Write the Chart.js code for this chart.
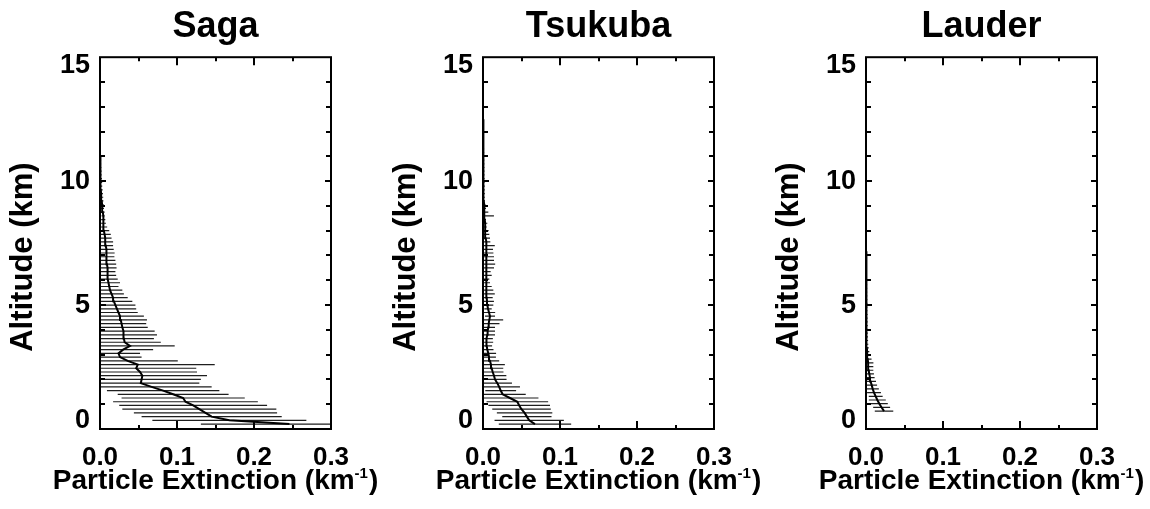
<!DOCTYPE html>
<html>
<head>
<meta charset="utf-8">
<script src="https://cdn.jsdelivr.net/npm/chart.js@4.4.0/dist/chart.umd.min.js"></script>
<style>
  html, body { margin: 0; padding: 0; background: #fff; overflow: hidden; width: 1150px; height: 509px; }
  .panel { position: absolute; top: 0; width: 431px; height: 509px; }
</style>
</head>
<body>
<div class="panel" style="left:0px"><canvas id="c0" width="431" height="509"></canvas></div>
<div class="panel" style="left:383px"><canvas id="c1" width="431" height="509"></canvas></div>
<div class="panel" style="left:766px"><canvas id="c2" width="431" height="509"></canvas></div>
<script>
// altitude levels (km), Saga and Tsukuba share them
var altitude = [
  0.2,0.35,0.5,0.65,0.8,0.95,1.1,1.25,1.4,1.55,
  1.7,1.85,2.0,2.15,2.3,2.45,2.6,2.75,2.9,3.05,
  3.2,3.35,3.5,3.65,3.8,3.95,4.1,4.25,4.4,4.55,
  4.7,4.85,5.0,5.15,5.3,5.45,5.6,5.75,5.9,6.05,
  6.2,6.35,6.5,6.65,6.8,6.95,7.1,7.25,7.4,7.55,
  7.7,7.85,8.0,8.15,8.3,8.45,8.6,8.75,8.9,9.05,
  9.2,9.35,9.5,9.65,9.8,9.95,10.1,10.25,10.4,10.55,
  10.7,10.85,11.0,11.15,11.3,11.45,11.6,11.75,11.9,12.05,
  12.2,12.35,12.5
];

var sagaMean = [
  0.246,0.168,0.145,0.137,0.129,0.121,0.111,0.108,0.095,0.082,
  0.067,0.053,0.054,0.055,0.052,0.047,0.049,0.036,0.026,0.024,
  0.030,0.039,0.032,0.031,0.031,0.030,0.029,0.028,0.027,0.026,
  0.024,0.022,0.020,0.018,0.017,0.015,0.013,0.012,0.011,0.010,
  0.010,0.010,0.0095,0.009,0.009,0.0087,0.008,0.0078,0.0074,0.007,
  0.0065,0.006,0.005,0.0048,0.0045,0.0042,0.004,0.0035,0.003,0.0026,
  0.0022,0.0017,0.0013,0.001,0.0009,0.0008,0.0007,0.0006,0.0005,0.0005,
  0.0004,0.0004,0.0003
];
var sagaSd = [
  0.115,0.100,0.091,0.093,0.100,0.096,0.094,0.080,0.072,0.073,
  0.078,0.076,0.077,0.084,0.074,0.078,0.100,0.065,0.028,0.028,
  0.039,0.058,0.047,0.039,0.043,0.041,0.033,0.032,0.034,0.031,
  0.025,0.025,0.026,0.024,0.019,0.016,0.016,0.012,0.015,0.013,
  0.011,0.010,0.012,0.012,0.011,0.010,0.011,0.010,0.0096,0.010,
  0.0085,0.008,0.007,0.0045,0.0032,0.0027,0.002,0.0025,0.0022,0.002,
  0.0022,0.0025,0.0025,0.0025,0.002,0.002,0.0018,0.0015,0.0015,0.0012,
  0.001,0.001,0.0008
];

var tsukubaMean = [
  0.0675,0.060,0.057,0.054,0.050,0.047,0.0446,0.035,0.0255,0.023,
  0.021,0.0186,0.0156,0.0143,0.0126,0.0113,0.0104,0.009,0.0078,0.007,
  0.0056,0.0048,0.0042,0.0048,0.0056,0.006,0.0069,0.0074,0.0082,0.0091,
  0.0078,0.0065,0.0056,0.0052,0.0048,0.0043,0.0039,0.0039,0.0039,0.0039,
  0.0043,0.0043,0.0048,0.0048,0.0048,0.0048,0.0048,0.0043,0.0043,0.0039,
  0.0035,0.003,0.003,0.0026,0.0026,0.0022,0.0022,0.0017,0.0013,0.0013,
  0.0009,0.0009,0.0008,0.0008,0.0008,0.0007,0.0007,0.0007,0.0006,0.0006,
  0.0006,0.0005,0.0005,0.0005,0.0004,0.0004,0.0004,0.0004,0.0003,0.0003,
  0.0003,0.0003,0.0002
];
var tsukubaSd = [
  0.047,0.045,0.032,0.036,0.038,0.040,0.040,0.037,0.030,0.020,
  0.027,0.019,0.015,0.016,0.014,0.015,0.018,0.012,0.009,0.010,
  0.008,0.007,0.009,0.008,0.010,0.0096,0.0087,0.014,0.018,0.0065,
  0.008,0.0048,0.0078,0.009,0.0078,0.011,0.0095,0.0074,0.0052,0.0043,
  0.007,0.0056,0.0095,0.011,0.0095,0.0095,0.0087,0.0087,0.011,0.0056,
  0.0056,0.0052,0.0043,0.0022,0.003,0.0017,0.012,0.0052,0.0026,0.0017,
  0.0017,0.0015,0.0015,0.0014,0.0014,0.0013,0.0013,0.0012,0.0012,0.0012,
  0.0011,0.0011,0.001,0.001,0.001,0.0009,0.0009,0.0009,0.0008,0.0008,
  0.0008,0.0007,0.0007
];

var lauderAlt = [
  0.72,0.87,1.02,1.17,1.32,1.47,1.62,1.77,1.92,2.07,
  2.22,2.37,2.52,2.67,2.82,2.97,3.12,3.27,3.42,3.57,
  3.72,3.87,4.02,4.17,4.32,4.47,4.62,4.77,4.92,5.07,
  5.22,5.37,5.52,5.67,5.82,5.97,6.12,6.27,6.42,6.57,
  6.72,6.87,7.02,7.17
];
var lauderMean = [
  0.0234,0.0203,0.0173,0.0147,0.0126,0.0104,0.0087,0.0074,0.006,0.0052,
  0.0043,0.0035,0.003,0.0026,0.0022,0.0017,0.0013,0.0011,0.001,0.0009,
  0.0009,0.0008,0.0008,0.0008,0.0007,0.0007,0.0007,0.0006,0.0006,0.0006,
  0.0006,0.0005,0.0005,0.0005,0.0005,0.0004,0.0004,0.0004,0.0004,0.0003,
  0.0003,0.0003,0.0003,0.0002
];
var lauderSd = [
  0.012,0.011,0.011,0.011,0.009,0.009,0.008,0.007,0.007,0.006,
  0.006,0.006,0.0065,0.007,0.005,0.0035,0.003,0.0025,0.002,0.0018,
  0.0016,0.0015,0.0015,0.0014,0.0014,0.0013,0.0013,0.0012,0.0012,0.0012,
  0.0011,0.0011,0.001,0.001,0.001,0.001,0.0009,0.0009,0.0009,0.0008,
  0.0008,0.0008,0.0007,0.0007
];

var stations = ['Saga', 'Tsukuba', 'Lauder'];
var yLabels = [0, 5, 10, 15];
var xMinorTicks = [0.05, 0.1, 0.15, 0.2, 0.25];
var yMinorTicks = [1,2,3,4,5,6,7,8,9,10,11,12,13,14];
var yTitle = 'Altitude (km)';
var xTitle = 'Particle Extinction (km';
var xTitleSup = '-1';

var FONT = "'Liberation Sans', Arial, Helvetica, sans-serif";

// box round the plot, inward ticks, y tick labels and the two axis titles
var frame = {
  id: 'frame',
  afterDraw: function(chart) {
    var ctx = chart.ctx;
    var a = chart.chartArea;
    var xs = chart.scales.x, ys = chart.scales.y;
    ctx.save();
    ctx.strokeStyle = '#000';
    ctx.lineWidth = 2;
    ctx.strokeRect(a.left, a.top, a.right - a.left, a.bottom - a.top);
    ctx.beginPath();
    xMinorTicks.forEach(function(v) {
      var px = Math.round(xs.getPixelForValue(v));
      var len = (Math.abs(v - 0.1) < 1e-6 || Math.abs(v - 0.2) < 1e-6) ? 8 : 4;
      ctx.moveTo(px, a.bottom); ctx.lineTo(px, a.bottom - len);
      ctx.moveTo(px, a.top); ctx.lineTo(px, a.top + len);
    });
    yMinorTicks.forEach(function(v) {
      var py = Math.round(ys.getPixelForValue(v));
      var len = v % 5 === 0 ? 6 : 5;
      ctx.moveTo(a.left, py); ctx.lineTo(a.left + len, py);
      ctx.moveTo(a.right, py); ctx.lineTo(a.right - len, py);
    });
    ctx.stroke();

    ctx.fillStyle = '#000';
    ctx.font = 'bold 27px ' + FONT;
    ctx.textAlign = 'right';
    ctx.textBaseline = 'middle';
    yLabels.forEach(function(v) {
      var py = ys.getPixelForValue(v);
      if (v === 15) py += 8;
      if (v === 0) py -= 8;
      ctx.fillText(String(v), a.left - 10, py);
    });

    // y title, rotated
    ctx.save();
    ctx.translate(a.left - 77, (a.top + a.bottom) / 2 + 14);
    ctx.rotate(-Math.PI / 2);
    ctx.textAlign = 'center';
    ctx.textBaseline = 'middle';
    ctx.font = 'bold 31px ' + FONT;
    ctx.fillText(yTitle, 0, 0);
    ctx.restore();

    // x title with superscript
    var big = 'bold 28px ' + FONT, small = 'bold 15px ' + FONT;
    ctx.font = big;
    var w1 = ctx.measureText(xTitle).width;
    var w3 = ctx.measureText(')').width;
    ctx.font = small;
    var w2 = ctx.measureText(xTitleSup).width + 1;
    var x0 = (a.left + a.right) / 2 - (w1 + w2 + w3) / 2;
    var base = a.bottom + 60;
    ctx.textAlign = 'left';
    ctx.textBaseline = 'alphabetic';
    ctx.font = big;
    ctx.fillText(xTitle, x0, base);
    ctx.fillText(')', x0 + w1 + w2, base);
    ctx.font = small;
    ctx.fillText(xTitleSup, x0 + w1, base - 11);
    ctx.restore();
  }
};

function profilePoints(alt, mean) {
  var pts = [];
  for (var i = 0; i < mean.length; i++) pts.push({x: mean[i], y: alt[i]});
  return pts;
}

function errorSegments(alt, mean, sd) {
  var pts = [];
  for (var i = 0; i < mean.length; i++) {
    pts.push({x: mean[i] - sd[i], y: alt[i]});
    pts.push({x: mean[i] + sd[i], y: alt[i]});
    pts.push({x: null, y: null});
  }
  return pts;
}

var series = [
  {alt: altitude, mean: sagaMean, sd: sagaSd},
  {alt: altitude, mean: tsukubaMean, sd: tsukubaSd},
  {alt: lauderAlt, mean: lauderMean, sd: lauderSd}
];

for (var k = 0; k < 3; k++) {
  var s = series[k];
  new Chart(document.getElementById('c' + k), {
    type: 'scatter',
    data: {
      datasets: [
        {
          data: profilePoints(s.alt, s.mean),
          showLine: true,
          borderColor: '#000',
          borderWidth: 2,
          pointRadius: 0,
          tension: 0,
          order: 0
        },
        {
          data: errorSegments(s.alt, s.mean, s.sd),
          showLine: true,
          spanGaps: false,
          borderColor: '#1e1e1e',
          borderWidth: 1.2,
          pointRadius: 0,
          tension: 0,
          order: 1
        }
      ]
    },
    options: {
      responsive: false,
      animation: false,
      events: [],
      layout: { padding: 0 },
      plugins: {
        legend: { display: false },
        tooltip: { enabled: false },
        title: {
          display: true,
          text: stations[k],
          color: '#000',
          font: { family: FONT, size: 36, weight: 'bold' },
          padding: { top: 5, bottom: 9 }
        }
      },
      scales: {
        x: {
          type: 'linear',
          min: 0,
          max: 0.3,
          grid: { display: false },
          border: { display: false },
          ticks: {
            stepSize: 0.1,
            color: '#000',
            padding: 5,
            maxRotation: 0,
            font: { family: FONT, size: 26, weight: 'bold' },
            callback: function(v) { return Number(v).toFixed(1); }
          },
          afterFit: function(scale) { scale.height = 80; }
        },
        y: {
          type: 'linear',
          position: 'left',
          min: 0,
          max: 15,
          grid: { display: false },
          border: { display: false },
          ticks: { display: false, stepSize: 5 },
          afterFit: function(scale) { scale.width = 100; }
        },
        yRight: {
          type: 'linear',
          position: 'right',
          min: 0,
          max: 15,
          grid: { display: false },
          border: { display: false },
          ticks: { display: false },
          afterFit: function(scale) { scale.width = 100; }
        }
      }
    },
    plugins: [frame]
  });
}
</script>
</body>
</html>
